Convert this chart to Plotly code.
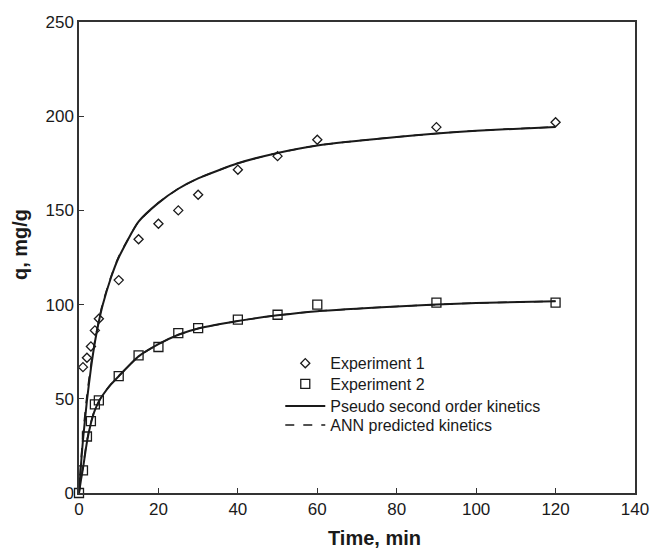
import plotly.graph_objects as go

t_exp = [0, 1, 2, 3, 4, 5, 10, 15, 20, 25, 30, 40, 50, 60, 90, 120]
q_exp1 = [None, 66.8, 71.8, 77.8, 86.3, 92.5, 113.0, 134.7, 142.9, 150.0, 158.3, 171.6, 178.8, 187.5, 194.2, 196.8]
q_exp2 = [0, 12.0, 30.0, 38.2, 47.0, 49.2, 62.0, 73.0, 77.5, 84.9, 87.5, 92.0, 94.6, 100.0, 101.0, 101.0]

# Model curves
t_fit = [0, 0.5, 1, 2, 3, 4, 5, 6, 8, 10, 15, 20, 25, 30, 40, 50, 60, 80, 90, 100, 120]
q_pso1 = [0, 15, 28, 49, 66, 80, 91, 100, 114, 125, 144, 154, 161.5, 167, 175, 180.5, 184.5, 189, 190.8, 192.3, 194.3]
q_ann1 = [0, 17, 31, 52, 68, 81, 92, 101, 114.5, 125.5, 144, 154, 161.5, 167, 175, 180.5, 184.5, 189, 190.8, 192.3, 194.3]
q_pso2 = [0, 7, 13, 27, 37, 44, 48.5, 52, 57.5, 62, 72.5, 79, 84, 87.3, 91.3, 94.3, 96.5, 99, 100, 100.8, 101.8]
q_ann2 = [0, 7.5, 14, 28, 37.5, 44.5, 48.8, 52.3, 57.7, 62, 72.5, 79, 84, 87.3, 91.3, 94.3, 96.5, 99, 100, 100.8, 101.8]

x_ticks = [0, 20, 40, 60, 80, 100, 120, 140]
y_ticks = [0, 50, 100, 150, 200, 250]

FONT = "Liberation Sans, Arial, sans-serif"
INK = "#1a1a1a"

fig = go.Figure()

fig.add_trace(go.Scatter(
    x=t_exp, y=q_exp1, mode="markers", name="Experiment 1", legend="legend",
    marker=dict(symbol="diamond-open", size=7, color=INK, line=dict(width=1.3, color=INK)),
    cliponaxis=False,
))
fig.add_trace(go.Scatter(
    x=t_exp, y=q_exp2, mode="markers", name="Experiment 2", legend="legend2",
    marker=dict(symbol="square-open", size=9, color=INK, line=dict(width=1.3, color=INK)),
    cliponaxis=False,
))
fig.add_trace(go.Scatter(
    x=t_fit, y=q_pso1, mode="lines", name="Pseudo second order kinetics", legend="legend3",
    line=dict(color=INK, width=2, shape="spline", smoothing=0.6), legendgroup="pso",
))
fig.add_trace(go.Scatter(
    x=t_fit, y=q_pso2, mode="lines", name="Pseudo second order kinetics", legend="legend3",
    line=dict(color=INK, width=2, shape="spline", smoothing=0.6), legendgroup="pso", showlegend=False,
))
fig.add_trace(go.Scatter(
    x=t_fit, y=q_ann1, mode="lines", name="ANN predicted kinetics", legend="legend4",
    line=dict(color=INK, width=1.5, dash="dash", shape="spline", smoothing=0.6), legendgroup="ann",
))
fig.add_trace(go.Scatter(
    x=t_fit, y=q_ann2, mode="lines", name="ANN predicted kinetics", legend="legend4",
    line=dict(color=INK, width=1.5, dash="dash", shape="spline", smoothing=0.6), legendgroup="ann", showlegend=False,
))

axis_common = dict(
    showgrid=False, zeroline=False, showline=True, linecolor="#333", linewidth=1.5,
    mirror=True, ticks="inside", ticklen=5, tickwidth=1.2, tickcolor="#333",
    tickfont=dict(family=FONT, size=17, color=INK), ticklabeloverflow="allow",
    automargin=False,
)


def leg(y):
    return dict(
        x=0.362, y=y, xanchor="left", yanchor="middle",
        bgcolor="rgba(0,0,0,0)", font=dict(family=FONT, size=16, color=INK),
        itemwidth=40, borderwidth=0,
    )


fig.update_layout(
    width=651, height=551,
    margin=dict(l=79, r=16, t=22, b=58, autoexpand=False),
    paper_bgcolor="white", plot_bgcolor="white",
    font=dict(family=FONT, color=INK),
    showlegend=True,
    legend=leg(0.2754),
    legend2=leg(0.2314),
    legend3=leg(0.1847),
    legend4=leg(0.1444),
    xaxis=dict(range=[0, 140], tickvals=x_ticks, ticktext=[str(v) for v in x_ticks], **axis_common),
    yaxis=dict(range=[0, 250], tickvals=y_ticks, ticktext=[str(v) for v in y_ticks], **axis_common),
    annotations=[
        dict(text="<b>Time, min</b>", xref="paper", yref="paper", x=0.532, y=-0.0955,
             xanchor="center", yanchor="middle", showarrow=False,
             font=dict(family=FONT, size=20, color=INK)),
        dict(text="<b>q, mg/g</b>", xref="paper", yref="paper", x=-0.106, y=0.5265,
             xanchor="center", yanchor="middle", showarrow=False, textangle=-90,
             font=dict(family=FONT, size=20, color=INK)),
    ],
)

fig.write_html("out.html")
